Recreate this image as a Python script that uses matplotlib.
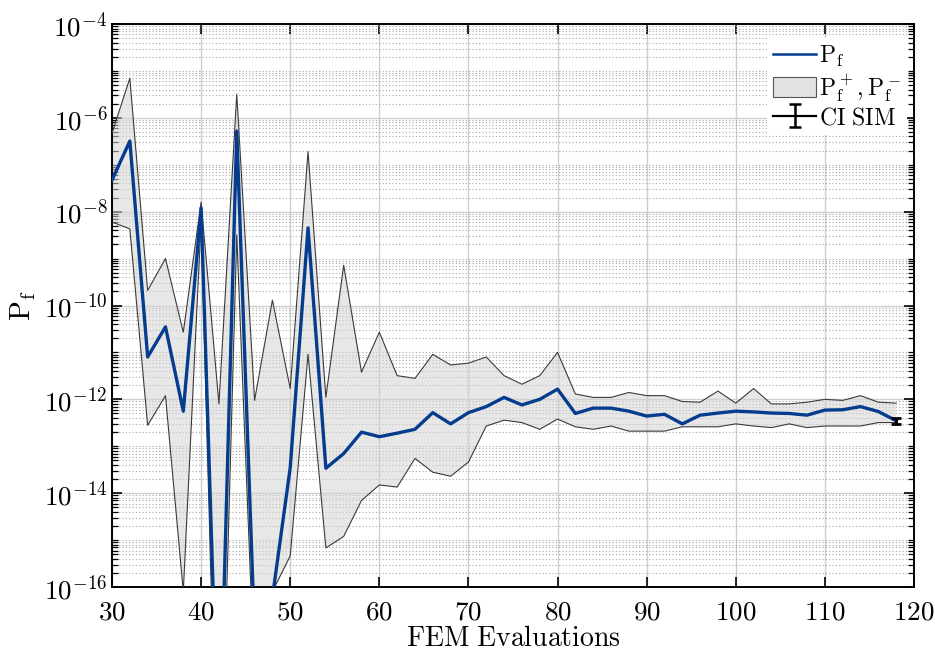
import numpy as np
import matplotlib
matplotlib.use("Agg")
from matplotlib import pyplot as plt
from matplotlib.ticker import FixedLocator, FuncFormatter
from matplotlib.patches import Patch
from matplotlib.lines import Line2D

plt.rcParams["mathtext.fontset"] = "cm"
plt.rcParams["font.family"] = ["DejaVu Serif"]

# FEM evaluations (x axis)
fem_evals = list(range(30, 120, 2))

# estimated failure probability P_f
pf = [4.7e-8, 3.2e-7, 8e-12, 3.5e-11, 5.6e-13, 1.2e-8, 1e-20, 5.2e-7, 1e-17, 6e-17,
      3.5e-14, 4.5e-9, 3.4e-14, 7e-14, 2e-13, 1.6e-13, 1.9e-13, 2.3e-13, 5.2e-13, 3e-13,
      5.2e-13, 7e-13, 1.1e-12, 7.6e-13, 1e-12, 1.65e-12, 5e-13, 6.5e-13, 6.5e-13, 5.6e-13,
      4.4e-13, 4.8e-13, 3e-13, 4.6e-13, 5.1e-13, 5.6e-13, 5.4e-13, 5.1e-13, 5e-13, 4.6e-13,
      5.9e-13, 6e-13, 7e-13, 5.5e-13, 3.5e-13]

# upper bound P_f^+
pf_upper = [4.7e-7, 7e-6, 2.1e-10, 1e-9, 2.7e-11, 1.6e-8, 8e-13, 3.2e-6, 9.5e-13, 1.3e-10,
            1.7e-12, 1.9e-7, 1.1e-12, 7.2e-10, 3.8e-12, 2.7e-11, 3.2e-12, 2.8e-12, 9.1e-12, 5.4e-12,
            5.9e-12, 8e-12, 3.2e-12, 2.1e-12, 3.2e-12, 1e-11, 1.3e-12, 1.1e-12, 1.1e-12, 1.4e-12,
            1.2e-12, 1.2e-12, 9e-13, 8.7e-13, 1.5e-12, 8.3e-13, 1.7e-12, 8e-13, 8e-13, 8.7e-13,
            1e-12, 9.5e-13, 1.2e-12, 8.7e-13, 8.3e-13]

# lower bound P_f^-
pf_lower = [6e-9, 4.3e-9, 2.8e-13, 1.2e-12, 8e-17, 6.3e-9, 1e-22, 3.2e-9, 1e-18, 8e-17,
            4.6e-16, 9.1e-12, 6.8e-16, 1.2e-15, 7e-15, 1.5e-14, 1.35e-14, 5.5e-14, 2.8e-14, 2.3e-14,
            4.6e-14, 2.7e-13, 3.6e-13, 3.2e-13, 2.3e-13, 3.8e-13, 2.6e-13, 2.3e-13, 2.7e-13, 2.1e-13,
            2.1e-13, 2.1e-13, 2.6e-13, 2.6e-13, 2.6e-13, 3e-13, 2.7e-13, 2.5e-13, 3e-13, 2.5e-13,
            2.7e-13, 2.7e-13, 2.7e-13, 3.2e-13, 3.2e-13]

# confidence interval of the reference simulation
ci_x = 118
ci_center = 3.5e-13
ci_low = 3.0e-13
ci_high = 4.1e-13

BLUE = "#053c8e"

fig = plt.figure(figsize=(9.35, 6.57), dpi=100)
ax = fig.add_axes([0.1198, 0.1065, 0.8577, 0.857])

ax.fill_between(fem_evals, pf_lower, pf_upper, facecolor="#d4d4d4", alpha=0.55,
                edgecolor="none", zorder=2)
ax.plot(fem_evals, pf_upper, color="#3a3a3a", linewidth=0.8, zorder=3)
ax.plot(fem_evals, pf_lower, color="#3a3a3a", linewidth=0.8, zorder=3)
ax.plot(fem_evals, pf, color=BLUE, linewidth=2.4, zorder=4)
ax.errorbar([ci_x], [ci_center],
            yerr=[[ci_center - ci_low], [ci_high - ci_center]],
            fmt="none", ecolor="black", elinewidth=2.0, capsize=3.5, capthick=2.0, zorder=5)

ax.set_yscale("log")
ax.set_xlim(30, 120)
ax.set_ylim(1e-16, 1e-4)

major_y = [10.0 ** e for e in range(-16, -3, 2)]
minor_y = []
for d in range(-16, -4):
    for k in range(1, 10):
        v = k * 10.0 ** d
        if k == 1 and d % 2 == 0:
            continue
        minor_y.append(v)
ax.yaxis.set_major_locator(FixedLocator(major_y))
ax.yaxis.set_minor_locator(FixedLocator(minor_y))
ax.yaxis.set_major_formatter(FuncFormatter(lambda v, p: r"$10^{%d}$" % round(np.log10(v))))
ax.yaxis.set_minor_formatter(FuncFormatter(lambda v, p: ""))

ax.xaxis.set_major_locator(FixedLocator(list(range(30, 121, 10))))
ax.xaxis.set_major_formatter(FuncFormatter(lambda v, p: r"$%d$" % v))

ax.grid(True, which="major", axis="both", color="#cfcfcf", linestyle="-", linewidth=1.0)
ax.grid(True, which="minor", axis="y", color="#a8a8a8", linestyle=(0, (1, 2)), linewidth=0.8)
ax.set_axisbelow(True)

ax.tick_params(which="both", direction="in", top=True, right=True, labelsize=19.5)
ax.tick_params(axis="x", pad=8)
ax.tick_params(which="major", length=7, width=1.2)
ax.tick_params(which="minor", length=4, width=0.9)
for s in ax.spines.values():
    s.set_linewidth(1.4)

ax.set_xlabel(r"$\mathrm{FEM\ Evaluations}$", fontsize=20, labelpad=0)
ax.set_ylabel(r"$\mathrm{P_f}$", fontsize=21, labelpad=4)

# dummy errorbar outside the view, only for the legend handle
ci_handle = ax.errorbar([-100], [1e-10], yerr=[[5e-11], [5e-11]], fmt="-", color="black",
                        elinewidth=1.8, capsize=4, capthick=1.8, linewidth=1.6)
handles = [
    Line2D([0], [0], color=BLUE, linewidth=1.8),
    Patch(facecolor="#e2e2e2", edgecolor="#555555", linewidth=0.8),
    ci_handle,
]
labels = [r"$\mathrm{P_f}$", r"$\mathrm{P_f^+, P_f^-}$", r"$\mathrm{CI\ SIM}$"]
leg = ax.legend(handles, labels, loc="upper right", bbox_to_anchor=(0.991, 0.975),
                fontsize=17, frameon=True, fancybox=False, edgecolor="white",
                framealpha=1.0, borderaxespad=0.0, handlelength=1.8, handleheight=0.9,
                handletextpad=0.15, labelspacing=0.12, borderpad=0.25)
leg.get_frame().set_linewidth(0.0)

fig.savefig("out.png", dpi=100)
